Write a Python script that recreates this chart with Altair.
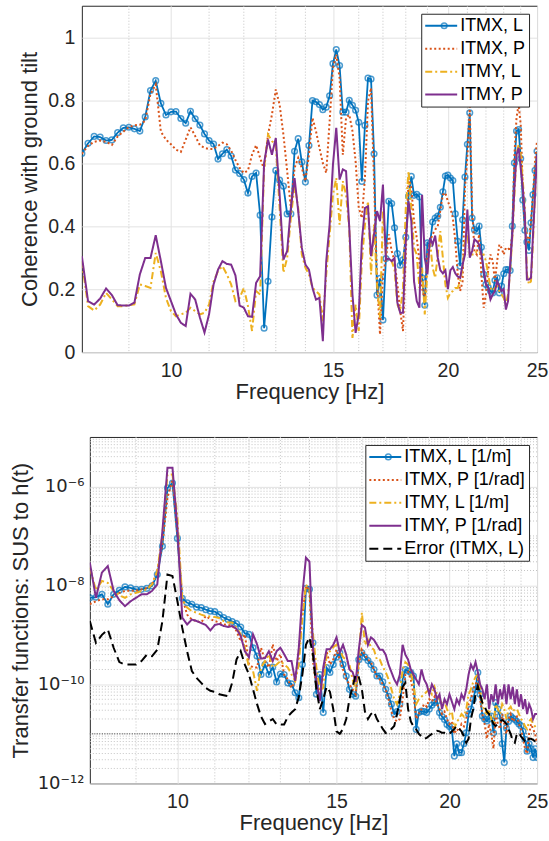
import altair as alt
import pandas as pd

# ---------------- data ----------------
FREQ_START = 8.0
FREQ_STEP = 0.125
N_POINTS = 137
freq = [FREQ_START + FREQ_STEP * k for k in range(N_POINTS)]

# Top panel: coherence with ground tilt (one row per Hz, 8 samples per row)
coh_itmx_l = [
    0.631, 0.663, 0.685, 0.683, 0.672, 0.674, 0.697, 0.712,
    0.714, 0.709, 0.702, 0.747, 0.831, 0.862, 0.790, 0.753,
    0.763, 0.764, 0.742, 0.727, 0.765, 0.741, 0.721, 0.693,
    0.672, 0.661, 0.613, 0.630, 0.643, 0.623, 0.578, 0.567,
    0.548, 0.505, 0.558, 0.569, 0.435, 0.076, 0.225, 0.429,
    0.577, 0.546, 0.527, 0.439, 0.439, 0.638, 0.678, 0.604,
    0.540, 0.656, 0.799, 0.795, 0.786, 0.770, 0.778, 0.814,
    0.916, 0.961, 0.910, 0.762, 0.762, 0.800, 0.784, 0.768,
    0.730, 0.542, 0.720, 0.870, 0.867, 0.630, 0.181, 0.234,
    0.102, 0.297, 0.479, 0.472, 0.395, 0.313, 0.276, 0.293,
    0.365, 0.495, 0.558, 0.498, 0.501, 0.493, 0.236, 0.149,
    0.347, 0.344, 0.413, 0.426, 0.432, 0.460, 0.509, 0.559,
    0.562, 0.553, 0.545, 0.439, 0.352, 0.273, 0.420, 0.556,
    0.660, 0.760, 0.426, 0.389, 0.384, 0.400, 0.333, 0.247,
    0.215, 0.206, 0.194, 0.188, 0.228, 0.236, 0.188, 0.210,
    0.249, 0.262, 0.262, 0.259, 0.400, 0.601, 0.702, 0.707,
    0.615, 0.483, 0.387, 0.350, 0.323, 0.411, 0.500, 0.577,
    0.638,
]
coh_itmx_p = [
    0.630, 0.655, 0.668, 0.672, 0.668, 0.658, 0.685, 0.700,
    0.715, 0.720, 0.722, 0.735, 0.820, 0.850, 0.700, 0.675,
    0.660, 0.643, 0.636, 0.675, 0.714, 0.686, 0.657, 0.649,
    0.645, 0.645, 0.655, 0.665, 0.660, 0.640, 0.610, 0.585,
    0.569, 0.577, 0.627, 0.657, 0.617, 0.580, 0.691, 0.754,
    0.834, 0.786, 0.691, 0.575, 0.458, 0.585, 0.617, 0.585,
    0.543, 0.627, 0.744, 0.702, 0.649, 0.600, 0.569, 0.733,
    0.903, 0.945, 0.871, 0.627, 0.744, 0.754, 0.702, 0.606,
    0.458, 0.426, 0.553, 0.797, 0.839, 0.543, 0.225, 0.056,
    0.247, 0.294, 0.374, 0.321, 0.289, 0.215, 0.130, 0.067,
    0.310, 0.553, 0.522, 0.416, 0.363, 0.289, 0.204, 0.162,
    0.310, 0.352, 0.374, 0.389, 0.400, 0.450, 0.500, 0.506,
    0.479, 0.458, 0.426, 0.352, 0.247, 0.194, 0.225, 0.522,
    0.620, 0.780, 0.458, 0.321, 0.310, 0.374, 0.247, 0.141,
    0.183, 0.262, 0.310, 0.289, 0.225, 0.289, 0.342, 0.331,
    0.310, 0.331, 0.331, 0.321, 0.374, 0.627, 0.744, 0.786,
    0.723, 0.522, 0.395, 0.374, 0.342, 0.416, 0.500, 0.606,
    0.670,
]
coh_itmy_l = [
    0.289, 0.146, 0.132, 0.151, 0.188, 0.167, 0.146, 0.146,
    0.149, 0.152, 0.215, 0.210, 0.204, 0.315, 0.257, 0.172,
    0.130, 0.114, 0.120, 0.125, 0.141, 0.130, 0.120, 0.125,
    0.151, 0.225, 0.257, 0.273, 0.247, 0.215, 0.162, 0.172,
    0.204, 0.146, 0.067, 0.194, 0.183, 0.585, 0.691, 0.670,
    0.659, 0.458, 0.252, 0.299, 0.426, 0.532, 0.458, 0.310,
    0.268, 0.247, 0.204, 0.194, 0.183, 0.098, 0.247, 0.374,
    0.500, 0.553, 0.405, 0.543, 0.500, 0.395, 0.045, 0.151,
    0.067, 0.289, 0.405, 0.479, 0.247, 0.405, 0.215, 0.109,
    0.448, 0.310, 0.289, 0.289, 0.262, 0.151, 0.130, 0.204,
    0.458, 0.575, 0.458, 0.331, 0.310, 0.204, 0.268, 0.120,
    0.257, 0.352, 0.268, 0.236, 0.310, 0.384, 0.300, 0.215,
    0.172, 0.188, 0.194, 0.204, 0.204, 0.225, 0.268, 0.352,
    0.374, 0.310, 0.310, 0.310, 0.321, 0.321, 0.310, 0.310,
    0.289, 0.247, 0.204, 0.194, 0.204, 0.210, 0.194, 0.183,
    0.172, 0.151, 0.183, 0.257, 0.363, 0.500, 0.627, 0.659,
    0.627, 0.543, 0.458, 0.247, 0.215, 0.225, 0.352, 0.500,
    0.627,
]
coh_itmy_p = [
    0.305, 0.162, 0.151, 0.170, 0.202, 0.181, 0.149, 0.148,
    0.148, 0.157, 0.247, 0.299, 0.299, 0.371, 0.289, 0.204,
    0.162, 0.120, 0.093, 0.083, 0.185, 0.167, 0.110, 0.062,
    0.120, 0.215, 0.262, 0.289, 0.280, 0.278, 0.244, 0.148,
    0.141, 0.114, 0.112, 0.220, 0.241, 0.600, 0.675, 0.627,
    0.680, 0.500, 0.294, 0.321, 0.458, 0.553, 0.448, 0.331,
    0.278, 0.262, 0.204, 0.167, 0.172, 0.035, 0.289, 0.405,
    0.596, 0.712, 0.548, 0.580, 0.575, 0.395, 0.183, 0.061,
    0.120, 0.352, 0.458, 0.463, 0.305, 0.374, 0.448, 0.416,
    0.532, 0.294, 0.297, 0.289, 0.299, 0.157, 0.125, 0.125,
    0.352, 0.479, 0.416, 0.225, 0.162, 0.141, 0.500, 0.300,
    0.247, 0.363, 0.342, 0.370, 0.300, 0.260, 0.250, 0.260,
    0.200, 0.260, 0.270, 0.250, 0.240, 0.236, 0.278, 0.310,
    0.453, 0.300, 0.321, 0.358, 0.352, 0.342, 0.310, 0.262,
    0.215, 0.204, 0.167, 0.183, 0.194, 0.225, 0.210, 0.194,
    0.200, 0.135, 0.162, 0.278, 0.374, 0.522, 0.627, 0.649,
    0.585, 0.522, 0.437, 0.231, 0.231, 0.236, 0.374, 0.500,
    0.627,
]

# Bottom panel: log10 of transfer-function magnitudes
tf_itmx_l_log10 = [
    -8.25, -8.24, -8.18, -8.38, -8.18, -8.10, -8.03, -8.05,
    -8.08, -8.08, -8.06, -8.01, -7.78, -7.21, -6.03, -5.93,
    -7.05, -8.26, -8.35, -8.38, -8.44, -8.45, -8.49, -8.52,
    -8.53, -8.59, -8.65, -8.69, -8.73, -8.77, -8.84, -8.97,
    -8.99, -9.26, -9.43, -9.80, -9.60, -9.80, -9.65, -9.95,
    -9.79, -9.80, -9.97, -9.99, -10.17, -10.27, -9.60, -8.06,
    -8.08, -9.16, -10.20, -9.80, -10.57, -9.66, -9.76, -9.60,
    -9.45, -9.36, -9.60, -9.83, -10.10, -10.20, -10.24, -9.50,
    -9.36, -9.45, -9.52, -9.60, -9.70, -9.83, -9.83, -9.95,
    -10.10, -10.24, -10.40, -10.60, -10.55, -10.40, -9.90, -9.70,
    -9.73, -9.76, -9.83, -10.91, -10.57, -10.54, -10.55, -10.57,
    -10.50, -10.42, -10.37, -10.34, -10.57, -10.65, -10.71, -10.81,
    -10.85, -10.91, -11.45, -11.20, -11.38, -11.38, -11.20, -10.98,
    -10.60, -10.50, -10.30, -10.10, -9.76, -10.20, -10.64, -10.70,
    -10.74, -10.70, -10.64, -10.98, -10.37, -10.50, -10.64, -11.20,
    -11.58, -10.88, -10.75, -10.64, -10.68, -10.71, -10.75, -10.80,
    -10.84, -10.95, -11.11, -11.35, -11.20, -11.30, -11.48, -11.30,
    -11.48,
]
tf_itmx_p_log10 = [
    -8.38, -8.32, -8.28, -8.28, -8.22, -8.15, -8.11, -8.11,
    -8.11, -8.08, -8.05, -7.98, -7.71, -7.17, -6.23, -5.86,
    -6.97, -8.25, -8.59, -8.69, -8.72, -8.75, -8.62, -8.68,
    -8.72, -8.75, -8.79, -8.80, -8.82, -8.92, -9.13, -8.99,
    -9.60, -9.66, -9.66, -9.26, -9.53, -9.66, -9.19, -9.53,
    -9.39, -9.80, -9.90, -10.07, -9.93, -9.33, -8.60, -8.01,
    -8.10, -9.53, -10.07, -10.14, -9.80, -9.33, -9.60, -9.50,
    -9.30, -9.50, -9.70, -9.90, -10.00, -10.10, -10.20, -9.60,
    -9.30, -9.40, -9.50, -9.55, -9.70, -9.85, -9.90, -10.00,
    -10.10, -10.30, -10.55, -10.70, -10.75, -10.70, -10.30, -9.80,
    -9.75, -9.90, -10.20, -10.70, -10.60, -10.50, -10.40, -10.45,
    -10.30, -10.35, -10.25, -10.40, -10.50, -10.60, -10.55, -10.70,
    -10.80, -10.75, -11.00, -10.90, -10.95, -10.80, -10.85, -10.70,
    -10.40, -10.30, -10.10, -10.00, -9.90, -10.30, -10.60, -10.80,
    -11.10, -10.80, -11.00, -11.30, -10.60, -10.80, -10.90, -10.60,
    -10.80, -11.00, -10.70, -10.60, -10.75, -10.70, -10.65, -10.80,
    -10.90, -11.10, -11.30, -11.40, -11.00, -10.80, -10.90, -11.00,
    -11.20,
]
tf_itmy_l_log10 = [
    -7.64, -8.10, -7.91, -7.95, -8.11, -8.20, -8.25, -8.18,
    -8.15, -8.11, -8.08, -7.98, -7.71, -6.97, -5.76, -5.76,
    -6.63, -8.28, -8.45, -8.52, -8.55, -8.59, -8.62, -8.63,
    -8.64, -8.66, -8.72, -8.75, -8.75, -8.85, -8.99, -9.26,
    -9.66, -9.73, -10.13, -9.66, -9.53, -9.39, -9.66, -9.60,
    -9.53, -9.60, -9.66, -9.80, -9.93, -9.60, -8.65, -7.99,
    -8.05, -8.99, -9.66, -10.13, -10.07, -9.39, -9.33, -9.25,
    -9.20, -9.30, -9.45, -9.50, -9.60, -9.90, -10.10, -9.50,
    -8.55, -9.20, -9.10, -9.25, -9.30, -9.50, -9.50, -9.65,
    -9.75, -9.90, -10.10, -10.30, -10.40, -10.20, -9.70, -9.55,
    -9.60, -9.75, -10.00, -10.40, -10.30, -10.25, -10.20, -10.15,
    -10.10, -10.20, -10.05, -10.20, -10.30, -10.40, -10.35, -10.50,
    -10.60, -10.55, -10.90, -10.75, -10.70, -10.60, -10.65, -10.50,
    -10.20, -10.10, -9.95, -9.85, -9.80, -10.10, -10.40, -10.55,
    -10.60, -10.50, -10.70, -10.80, -10.40, -10.50, -10.60, -10.40,
    -10.50, -10.70, -10.50, -10.45, -10.55, -10.50, -10.50, -10.60,
    -10.70, -10.75, -10.85, -10.90, -10.75, -10.70, -10.80, -10.85,
    -10.90,
]
tf_itmy_p_log10 = [
    -7.54, -8.25, -7.74, -7.61, -8.11, -8.30, -8.42, -8.32,
    -8.25, -8.18, -8.18, -8.11, -7.98, -6.90, -5.62, -5.62,
    -6.84, -8.65, -8.79, -8.69, -8.72, -8.76, -8.80, -8.91,
    -8.80, -8.78, -8.82, -8.84, -8.82, -8.88, -9.02, -9.33,
    -9.45, -8.99, -9.19, -9.48, -9.47, -9.33, -9.53, -9.33,
    -9.26, -9.39, -9.53, -9.53, -9.93, -9.26, -8.18, -7.44,
    -7.52, -9.26, -9.93, -10.34, -9.66, -9.29, -9.29, -9.20,
    -9.05, -9.35, -9.20, -9.40, -9.70, -9.75, -9.95, -9.30,
    -8.80, -8.85, -9.20, -9.05, -9.10, -9.20, -9.30, -9.30,
    -9.40, -9.60, -9.75, -9.90, -10.00, -9.80, -9.20, -9.40,
    -9.50, -9.70, -9.80, -9.90, -10.00, -9.70, -9.90, -10.00,
    -10.20, -10.00, -10.10, -10.30, -10.20, -10.50, -10.30, -10.40,
    -10.20, -10.35, -10.50, -10.30, -10.40, -10.20, -10.30, -10.10,
    -9.80, -9.60, -9.70, -9.55, -9.75, -10.00, -10.10, -10.30,
    -10.00, -10.50, -10.20, -10.35, -10.00, -10.40, -10.10, -10.30,
    -10.00, -10.40, -10.00, -10.30, -10.05, -10.40, -10.10, -10.45,
    -10.20, -10.50, -10.30, -10.60, -10.40, -10.50, -10.70, -10.60,
    -10.60,
]
err_itmx_l_log10 = [
    -8.72, -9.16, -9.00, -8.89, -9.26, -9.55, -9.60, -9.60,
    -9.60, -9.53, -9.40, -9.43, -9.30, -8.72, -7.78, -7.81,
    -8.32, -8.86, -9.33, -9.73, -9.87, -9.97, -10.07, -10.13,
    -10.15, -10.20, -10.22, -10.24, -9.96, -9.50, -9.33, -9.60,
    -9.80, -10.10, -10.40, -10.65, -10.80, -10.75, -10.70, -10.81,
    -10.81, -10.81, -10.65, -10.57, -10.50, -10.25, -9.80, -9.20,
    -9.05, -9.40, -10.10, -10.50, -10.30, -10.05, -10.15, -10.50,
    -10.95, -11.00, -10.90, -10.70, -10.30, -10.05, -9.80, -9.85,
    -10.10, -10.55, -10.70, -10.60, -10.55, -10.70, -10.80, -10.90,
    -10.98, -10.95, -10.90, -10.84, -10.60, -10.30, -10.05, -9.97,
    -10.50, -10.75, -10.85, -10.91, -11.00, -11.05, -11.10, -11.08,
    -11.04, -11.00, -10.96, -10.94, -10.95, -10.98, -10.98, -11.00,
    -11.00, -10.95, -10.90, -10.84, -10.90, -10.95, -11.05, -11.18,
    -11.10, -10.70, -10.50, -10.20, -10.03, -10.20, -10.37, -10.45,
    -10.55, -10.60, -10.70, -10.80, -10.84, -10.80, -10.75, -10.72,
    -10.75, -10.80, -10.90, -11.00, -11.15, -11.18, -11.00, -10.98,
    -11.05, -11.10, -11.15, -11.18, -11.10, -11.10, -11.12, -11.15,
    -11.15,
]

top_names = ["ITMX, L", "ITMX, P", "ITMY, L", "ITMY, P"]
bot_names = ["ITMX, L [1/m]", "ITMX, P [1/rad]", "ITMY, L [1/m]",
             "ITMY, P [1/rad]", "Error (ITMX, L)"]

major_freq_ticks = [10, 15, 20, 25]
minor_freq_ticks = [9, 11, 12, 13, 14, 16, 17, 18, 19, 21, 22, 23, 24]
coh_ticks = [0, 0.2, 0.4, 0.6, 0.8, 1]
tf_major_ticks = [1e-12, 1e-10, 1e-8, 1e-6]
tf_minor_ticks = [k * 10.0 ** d for d in range(-12, -5) for k in range(1, 10)
                  if not (k == 1 and d % 2 == 0)]
tf_ref_level = [1e-11]

# ---------------- styles ----------------
FONT = "Liberation Sans"
SUP_FONT = "DejaVu Sans"
TXT = "#262626"
GRID_MAJOR = "#e2e2e2"
GRID_MINOR = "#c4c4c4"
line_colors = ["#0072BD", "#D95319", "#EDB120", "#7E2F8E", "#000000"]
line_dashes = [[1, 0], [2, 2.5], [7, 3, 2, 3], [1, 0], [9, 5]]

TOP_W, TOP_H = 456, 347
BOT_W, BOT_H = 448, 347
LEG_ROW = 18

xscale = alt.Scale(type="log", domain=[8, 25], nice=False)


def x_axis():
    return alt.Axis(values=major_freq_ticks, format="d", grid=True,
                    gridColor=GRID_MAJOR, gridWidth=1, ticks=False, tickSize=0,
                    domain=False, labelFlush=False, labelOverlap=False,
                    labelPadding=9, labelFontSize=19.5, labelColor=TXT,
                    labelFont=FONT, title="Frequency [Hz]", titleFontSize=22,
                    titleFontWeight="normal", titleColor=TXT, titleFont=FONT,
                    titlePadding=2)


def main_legend():
    return alt.Legend(title=None, orient="top-right", offset=8,
                      fillColor="white", strokeColor=TXT, padding=3,
                      cornerRadius=0, labelFontSize=18, labelFont=FONT,
                      labelColor="black", labelOffset=2, labelLimit=400,
                      symbolType="stroke", symbolSize=1024,
                      symbolStrokeWidth=2, rowPadding=5, clipHeight=LEG_ROW)


def marker_legend(lx, ly):
    return alt.Legend(title=None, orient="none", legendX=lx, legendY=ly,
                      padding=0, labelExpr="''", labelFontSize=18,
                      symbolSize=32, symbolStrokeWidth=1.5,
                      symbolStrokeColor=line_colors[0], clipHeight=LEG_ROW,
                      symbolFillColor="transparent", symbolType="circle")


# ---------------- top panel ----------------
yscale_top = alt.Scale(domain=[0, 1.1], nice=False, zero=True)
y_axis_top = alt.Axis(values=coh_ticks, format=".1~f", grid=True,
                      gridColor=GRID_MAJOR, gridWidth=1, ticks=False,
                      tickSize=0, domain=False, labelPadding=7,
                      labelFontSize=19.5, labelColor=TXT, labelFont=FONT,
                      minExtent=72, maxExtent=72,
                      title="Coherence with ground tilt", titleFontSize=22,
                      titleFontWeight="normal", titleColor=TXT, titleFont=FONT,
                      titleAngle=270, titleAlign="center",
                      titleBaseline="alphabetic", titleX=-45,
                      titleY=TOP_H / 2)

top_series = [coh_itmx_l, coh_itmx_p, coh_itmy_l, coh_itmy_p]
top_frames = [pd.DataFrame({"freq": freq, "val": s, "series": n})
              for s, n in zip(top_series, top_names)]

top_color = alt.Color("series:N", scale=alt.Scale(domain=top_names,
                      range=line_colors[:4]), legend=main_legend())
top_dash = alt.StrokeDash("series:N", scale=alt.Scale(domain=top_names,
                          range=line_dashes[:4]), legend=main_legend())

top_minor = alt.Chart(pd.DataFrame({"f": minor_freq_ticks})).mark_rule(
    color=GRID_MINOR, strokeDash=[1, 2], strokeWidth=1
).encode(x=alt.X("f:Q", scale=xscale, axis=x_axis()))


def top_line(df, width):
    return alt.Chart(df).mark_line(strokeWidth=width, clip=True).encode(
        x=alt.X("freq:Q", scale=xscale, axis=x_axis()),
        y=alt.Y("val:Q", scale=yscale_top, axis=y_axis_top),
        color=top_color, strokeDash=top_dash)


top_points = alt.Chart(top_frames[0]).mark_point(
    filled=False, size=32, strokeWidth=1.5, color=line_colors[0], clip=True
).encode(
    x=alt.X("freq:Q", scale=xscale, axis=x_axis()),
    y=alt.Y("val:Q", scale=yscale_top, axis=y_axis_top),
    shape=alt.Shape("series:N", scale=alt.Scale(domain=[top_names[0]],
                    range=["circle"]), legend=marker_legend(354, 11)))

top_chart = alt.layer(
    top_minor,
    top_line(top_frames[0], 1.8),
    top_points,
    top_line(top_frames[1], 2),
    top_line(top_frames[2], 2),
    top_line(top_frames[3], 2),
).properties(width=TOP_W, height=TOP_H)

# ---------------- bottom panel ----------------
yscale_bot = alt.Scale(type="log", domain=[1e-12, 1e-5], nice=False)
y_axis_bot = alt.Axis(values=tf_major_ticks, grid=True, gridColor=GRID_MAJOR,
                      gridWidth=1, ticks=False, tickSize=0, domain=False,
                      labelExpr="datum.value < 5e-12 ? '10⁻¹²' : datum.value < 5e-10 ? '10⁻¹⁰' : datum.value < 5e-8 ? '10⁻⁸' : '10⁻⁶'",
                      labelPadding=6, labelFontSize=18, labelColor=TXT,
                      labelFont=SUP_FONT, minExtent=80, maxExtent=80,
                      title="Transfer functions: SUS to h(t)", titleFontSize=22,
                      titleFontWeight="normal", titleColor=TXT, titleFont=FONT,
                      titleAngle=270, titleAlign="center",
                      titleBaseline="alphabetic", titleX=-62,
                      titleY=BOT_H / 2)

bot_series = [tf_itmx_l_log10, tf_itmx_p_log10, tf_itmy_l_log10,
              tf_itmy_p_log10, err_itmx_l_log10]
bot_frames = [pd.DataFrame({"freq": freq, "val": [10.0 ** v for v in s],
                            "series": n})
              for s, n in zip(bot_series, bot_names)]

bot_color = alt.Color("series:N", scale=alt.Scale(domain=bot_names,
                      range=line_colors), legend=main_legend())
bot_dash = alt.StrokeDash("series:N", scale=alt.Scale(domain=bot_names,
                          range=line_dashes), legend=main_legend())

bot_minor_x = alt.Chart(pd.DataFrame({"f": minor_freq_ticks})).mark_rule(
    color=GRID_MINOR, strokeDash=[1, 2], strokeWidth=1
).encode(x=alt.X("f:Q", scale=xscale, axis=x_axis()))
bot_minor_y = alt.Chart(pd.DataFrame({"v": tf_minor_ticks})).mark_rule(
    color=GRID_MINOR, strokeDash=[1, 2], strokeWidth=1
).encode(y=alt.Y("v:Q", scale=yscale_bot, axis=y_axis_bot))
bot_ref = alt.Chart(pd.DataFrame({"v": tf_ref_level})).mark_rule(
    color="#3a3a3a", strokeDash=[1, 1.5], strokeWidth=1
).encode(y=alt.Y("v:Q", scale=yscale_bot, axis=y_axis_bot))


def bot_line(df, width):
    return alt.Chart(df).mark_line(strokeWidth=width, clip=True).encode(
        x=alt.X("freq:Q", scale=xscale, axis=x_axis()),
        y=alt.Y("val:Q", scale=yscale_bot, axis=y_axis_bot),
        color=bot_color, strokeDash=bot_dash)


bot_points = alt.Chart(bot_frames[0]).mark_point(
    filled=False, size=32, strokeWidth=1.5, color=line_colors[0], clip=True
).encode(
    x=alt.X("freq:Q", scale=xscale, axis=x_axis()),
    y=alt.Y("val:Q", scale=yscale_bot, axis=y_axis_bot),
    shape=alt.Shape("series:N", scale=alt.Scale(domain=[bot_names[0]],
                    range=["circle"]), legend=marker_legend(290, 11)))

bot_chart = alt.layer(
    bot_minor_x, bot_minor_y, bot_ref,
    bot_line(bot_frames[0], 1.8),
    bot_points,
    bot_line(bot_frames[1], 2),
    bot_line(bot_frames[2], 2),
    bot_line(bot_frames[3], 2),
    bot_line(bot_frames[4], 2),
).properties(width=BOT_W, height=BOT_H)


def spacer():
    return alt.Chart(pd.DataFrame({"s": [0]})).mark_point(
        opacity=0, size=0, strokeWidth=0
    ).encode(
        x=alt.value(0), y=alt.value(0)
    ).properties(width=1, height=1,
                 view=alt.ViewBackground(stroke="transparent", strokeWidth=0))


IND = "independent"


def row(panel):
    return alt.hconcat(spacer(), panel, spacing=0).resolve_scale(
        color=IND, strokeDash=IND, shape=IND
    ).resolve_legend(color=IND, strokeDash=IND, shape=IND)


chart = alt.vconcat(row(top_chart), row(bot_chart), spacing=33).resolve_scale(
    color=IND, strokeDash=IND, shape=IND
).resolve_legend(
    color=IND, strokeDash=IND, shape=IND
).properties(
    padding={"left": 8, "top": 4, "right": 0, "bottom": 0},
    background="white",
).configure(font=FONT).configure_view(stroke=TXT, strokeWidth=1)

chart.save("out.html", embed_options={"renderer": "svg", "actions": False})
